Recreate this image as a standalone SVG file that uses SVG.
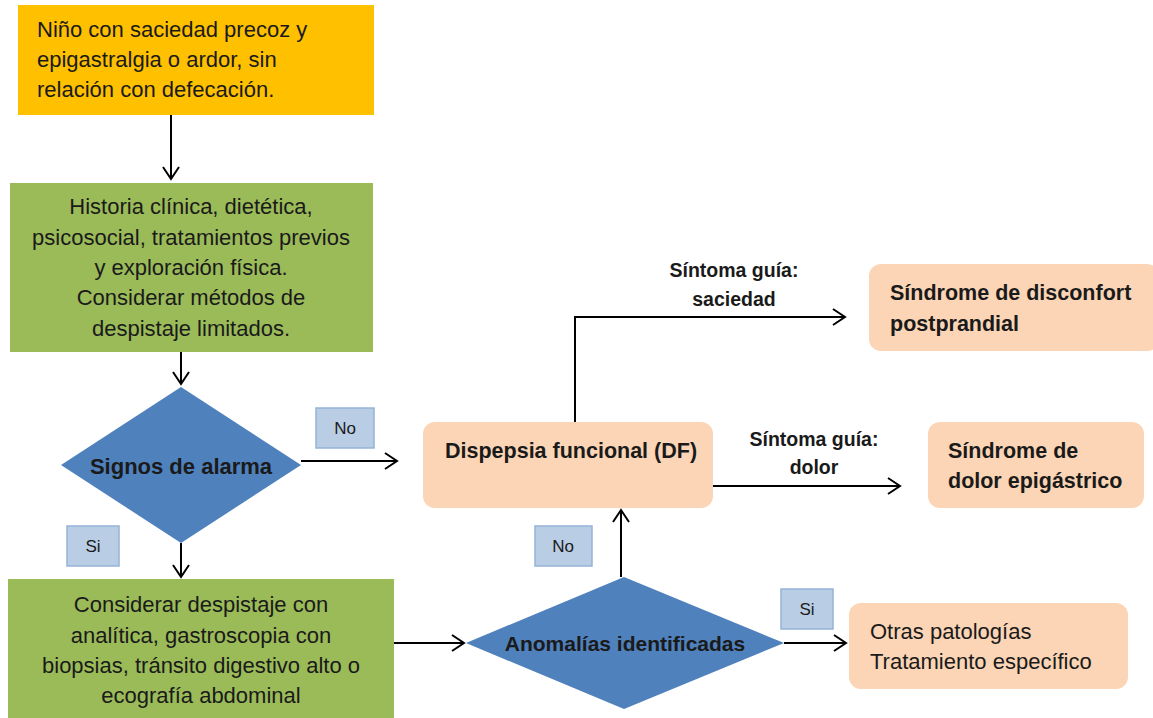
<svg xmlns="http://www.w3.org/2000/svg" width="1153" height="718" viewBox="0 0 1153 718">
<style>
  text { font-family: "Liberation Sans", Arial, sans-serif; fill: #1a1a1a; }
  .t20 { font-size: 22px; }
  .b { font-weight: bold; }
  .c { text-anchor: middle; }
  .g { font-size: 19.5px; font-weight: bold; text-anchor: middle; }
  .bx { font-size: 21.5px; font-weight: bold; }
  .lt { font-size: 17px; text-anchor: middle; }
  .peach { fill: #FBD5B5; }
  .lab { fill: #B9CDE5; stroke: #95B3D7; stroke-width: 1.5; }
  .conn { stroke: #000; stroke-width: 2; fill: none; marker-end: url(#arr); }
  .plain { stroke: #000; stroke-width: 2; fill: none; }
</style>
<defs>
  <marker id="arr" markerUnits="userSpaceOnUse" markerWidth="20" markerHeight="20" viewBox="-14 -10 16 20" refX="0" refY="0" orient="auto">
    <path d="M-12,-8 L0,0 L-12,8" fill="none" stroke="#000" stroke-width="2"/>
  </marker>
</defs>
<rect width="1153" height="718" fill="#fff"/>

<g id="connectors">
  <line class="conn" x1="171" y1="115" x2="171" y2="179"/>
  <line class="conn" x1="181" y1="352" x2="181" y2="384"/>
  <line class="conn" x1="301" y1="461" x2="397" y2="461"/>
  <line class="conn" x1="181" y1="543" x2="181" y2="577"/>
  <line class="conn" x1="394" y1="643" x2="464" y2="643"/>
  <line class="conn" x1="621" y1="577" x2="621" y2="510"/>
  <line class="conn" x1="784" y1="643" x2="846" y2="643"/>
  <polyline class="plain" points="575,422 575,317"/>
  <line class="conn" x1="574" y1="317" x2="845" y2="317"/>
  <line class="conn" x1="713" y1="486" x2="900" y2="486"/>
  <text class="g" x="734" y="277">Síntoma guía:</text>
  <text class="g" x="734" y="306">saciedad</text>
  <text class="g" x="814" y="446">Síntoma guía:</text>
  <text class="g" x="814" y="474">dolor</text>
</g>

<g id="n-start">
  <rect x="18" y="5" width="356" height="110" fill="#FFC000"/>
  <text class="t20" x="37" y="37">Niño con saciedad precoz y</text>
  <text class="t20" x="37" y="67">epigastralgia o ardor, sin</text>
  <text class="t20" x="37" y="97">relación con defecación.</text>
</g>

<g id="n-historia">
  <rect x="10" y="183" width="363" height="169" fill="#9BBB59"/>
  <text class="t20 c" x="191" y="214">Historia clínica, dietética,</text>
  <text class="t20 c" x="191" y="245">psicosocial, tratamientos previos</text>
  <text class="t20 c" x="191" y="275">y exploración física.</text>
  <text class="t20 c" x="191" y="305">Considerar métodos de</text>
  <text class="t20 c" x="191" y="336">despistaje limitados.</text>
</g>

<g id="n-signos">
  <polygon points="181,387 301,465 181,543 61,465" fill="#4F81BD"/>
  <text class="b c" x="181" y="474" style="font-size:22px">Signos de alarma</text>
</g>

<g id="l-no1">
  <rect class="lab" x="316" y="408" width="58" height="40"/>
  <text class="lt" x="345" y="434">No</text>
</g>

<g id="l-si1">
  <rect class="lab" x="67" y="526" width="52" height="40"/>
  <text class="lt" x="93" y="552">Si</text>
</g>

<g id="n-considerar">
  <rect x="8" y="579" width="386" height="139" fill="#9BBB59"/>
  <text class="t20 c" x="201" y="612">Considerar despistaje con</text>
  <text class="t20 c" x="201" y="643">analítica, gastroscopia con</text>
  <text class="t20 c" x="201" y="673">biopsias, tránsito digestivo alto o</text>
  <text class="t20 c" x="201" y="703">ecografía abdominal</text>
</g>

<g id="n-anomalias">
  <polygon points="624,577 784,643 624,709 466,643" fill="#4F81BD"/>
  <text class="b c" x="625" y="651" style="font-size:21px">Anomalías identificadas</text>
</g>

<g id="l-no2">
  <rect class="lab" x="535" y="526" width="57" height="40"/>
  <text class="lt" x="563" y="552">No</text>
</g>

<g id="l-si2">
  <rect class="lab" x="781" y="589" width="52" height="40"/>
  <text class="lt" x="807" y="615">Si</text>
</g>

<g id="n-df">
  <rect class="peach" x="423" y="422" width="290" height="86" rx="12"/>
  <text class="bx" x="445" y="458">Dispepsia funcional (DF)</text>
</g>

<g id="n-postprandial">
  <rect class="peach" x="869" y="264" width="290" height="87" rx="12"/>
  <text class="bx" x="890" y="300">Síndrome de disconfort</text>
  <text class="bx" x="890" y="331">postprandial</text>
</g>

<g id="n-epigastrico">
  <rect class="peach" x="928" y="422" width="216" height="86" rx="12"/>
  <text class="bx" x="948" y="458">Síndrome de</text>
  <text class="bx" x="948" y="488">dolor epigástrico</text>
</g>

<g id="n-otras">
  <rect class="peach" x="849" y="603" width="279" height="86" rx="12"/>
  <text class="t20" x="870" y="639">Otras patologías</text>
  <text class="t20" x="870" y="669">Tratamiento específico</text>
</g>
</svg>
